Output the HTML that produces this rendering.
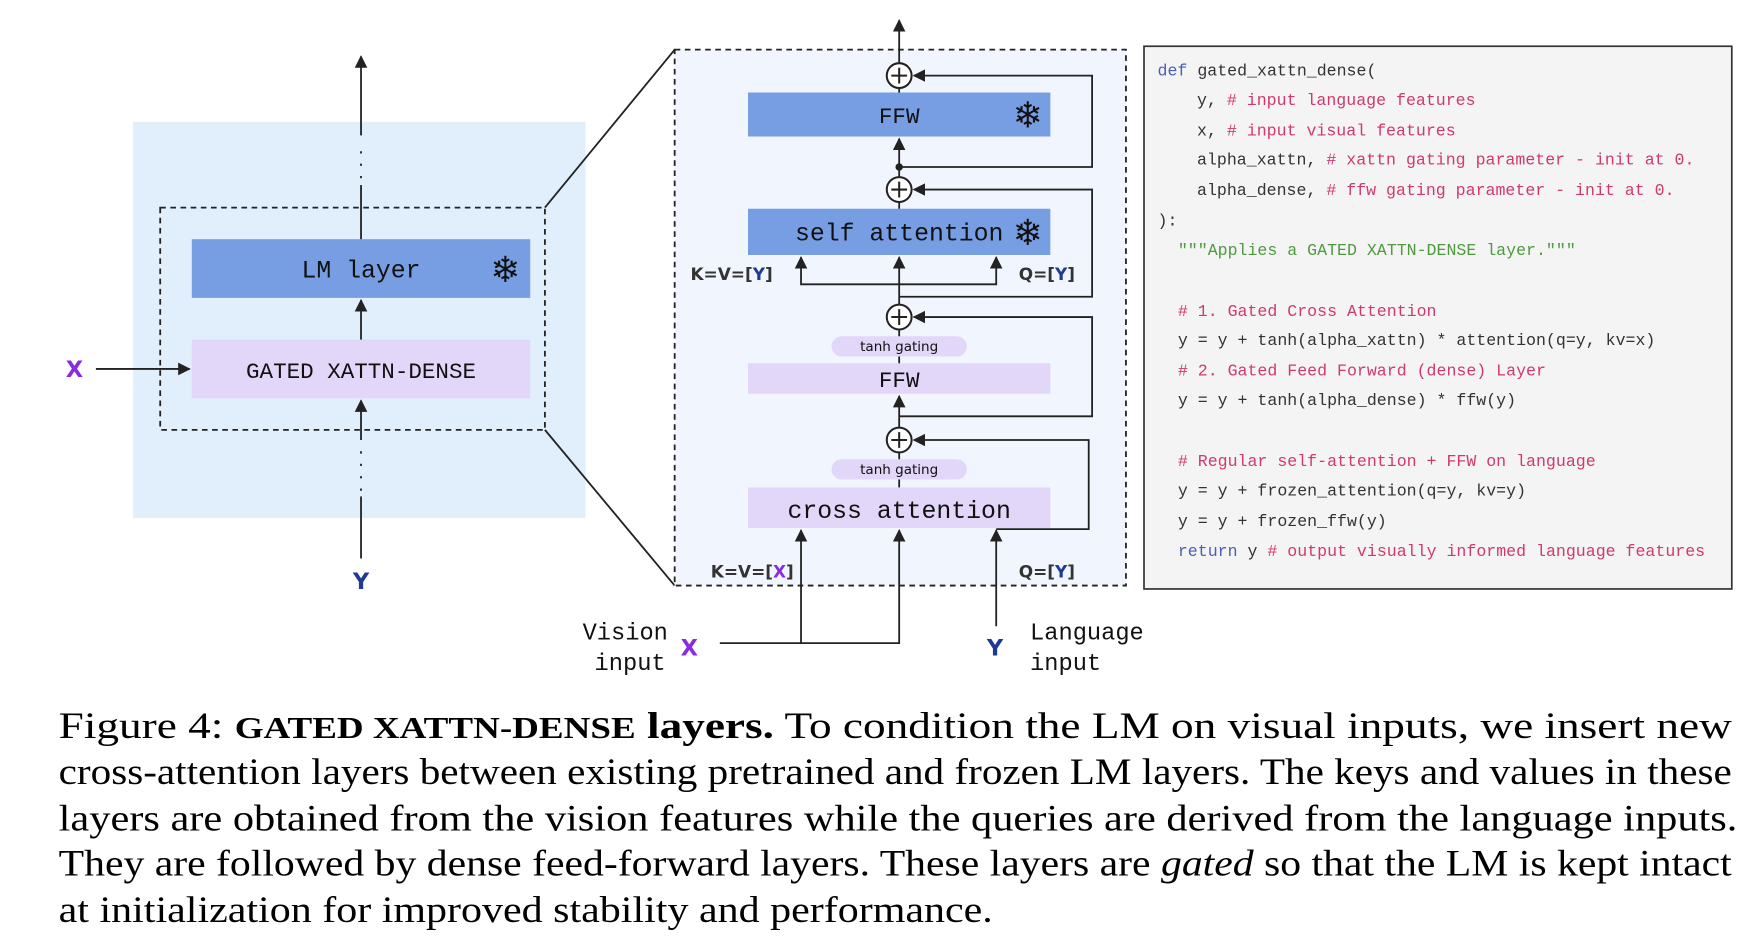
<!DOCTYPE html>
<html><head><meta charset="utf-8"><style>
html,body{margin:0;padding:0;background:#fff;width:1760px;height:950px;overflow:hidden}
svg{display:block}
.m{font-family:"Liberation Mono","DejaVu Sans Mono",monospace}
.s{font-family:"DejaVu Sans","Liberation Sans",sans-serif}
.c{font-family:"Liberation Mono",monospace;font-size:14.7px;fill:#333}
.r{fill:#d03a6a}.g{fill:#4e9a3e}.b{fill:#4a5fb5}
.cap{font-family:"Liberation Serif",serif;font-size:33px;fill:#000}
</style></head><body>
<svg width="1760" height="950" viewBox="0 0 1560 842" preserveAspectRatio="none" xmlns="http://www.w3.org/2000/svg">
<defs><marker id="a" viewBox="0 0 10 10" refX="9" refY="5" markerWidth="7" markerHeight="7" orient="auto-start-reverse"><path d="M0,0L10,5L0,10z" fill="#222"/></marker></defs>
<g stroke="#222" stroke-width="1.6" fill="none">
<rect x="118" y="108" width="401" height="351" fill="#e1eefc" stroke="none"/>
<rect x="142" y="184" width="341" height="197" stroke-dasharray="5,4"/>
<line x1="483" y1="184" x2="598" y2="44"/><line x1="483" y1="381" x2="598" y2="519"/>
<rect x="170" y="212" width="300" height="52" fill="#779de3" stroke="none"/>
<rect x="170" y="301" width="300" height="52" fill="#e3d7f9" stroke="none"/>
<line x1="320" y1="212" x2="320" y2="164"/><line x1="320" y1="158" x2="320" y2="128" stroke-dasharray="2,9"/><line x1="320" y1="120" x2="320" y2="50" marker-end="url(#a)"/>
<line x1="320" y1="301" x2="320" y2="266" marker-end="url(#a)"/>
<line x1="320" y1="495" x2="320" y2="440"/><line x1="320" y1="435" x2="320" y2="395" stroke-dasharray="2,9"/><line x1="320" y1="390" x2="320" y2="355" marker-end="url(#a)"/>
<line x1="85" y1="327" x2="168" y2="327" marker-end="url(#a)"/>
<rect x="598" y="44" width="400" height="475" fill="#f1f6fe" stroke-dasharray="5,4"/>
<rect x="663" y="82" width="268" height="39" fill="#779de3" stroke="none"/>
<rect x="663" y="185" width="268" height="41" fill="#779de3" stroke="none"/>
<rect x="663" y="322" width="268" height="27" fill="#e3d7f9" stroke="none"/>
<rect x="663" y="432" width="268" height="36" fill="#e3d7f9" stroke="none"/>
<line x1="797" y1="56" x2="797" y2="18" marker-end="url(#a)"/>
<line x1="797" y1="82" x2="797" y2="78"/>
<line x1="797" y1="157" x2="797" y2="123" marker-end="url(#a)"/>
<line x1="797" y1="185" x2="797" y2="179"/>
<line x1="797" y1="270" x2="797" y2="228" marker-end="url(#a)"/>
<polyline points="710,228 710,252 883,252 883,228" marker-start="url(#a)" marker-end="url(#a)"/>
<line x1="797" y1="292" x2="797" y2="322"/>
<line x1="797" y1="379" x2="797" y2="351" marker-end="url(#a)"/>
<line x1="797" y1="401" x2="797" y2="432"/>
<rect x="737" y="298" width="120" height="18" rx="9" fill="#e3d7f9" stroke="none"/>
<rect x="737" y="407" width="120" height="18" rx="9" fill="#e3d7f9" stroke="none"/>
<polyline points="797,148 968,148 968,67 810,67" marker-end="url(#a)"/>
<polyline points="797,263 968,263 968,168 810,168" marker-end="url(#a)"/>
<polyline points="797,369 968,369 968,281 810,281" marker-end="url(#a)"/>
<polyline points="883,469 965,469 965,390 810,390" marker-end="url(#a)"/>
<polyline points="638,570 797,570 797,470" marker-end="url(#a)"/>
<line x1="710" y1="570" x2="710" y2="470" marker-end="url(#a)"/>
<line x1="883" y1="555" x2="883" y2="470" marker-end="url(#a)"/>
<g fill="#fff" stroke-width="1.8">
<circle cx="797" cy="67" r="11"/><circle cx="797" cy="168" r="11"/><circle cx="797" cy="281" r="11"/><circle cx="797" cy="390" r="11"/></g>
<path d="M790,67h14M797,60v14M790,168h14M797,161v14M790,281h14M797,274v14M790,390h14M797,383v14" stroke-width="1.8"/>
<circle cx="797" cy="148" r="2.5" fill="#222"/>
<rect x="1014" y="41" width="521" height="481" fill="#f4f4f4" stroke="#333" stroke-width="1.5"/>
</g>
<g class="m" fill="#111" text-anchor="middle">
<text x="320" y="246" font-size="22">LM layer</text>
<text x="320" y="335" font-size="20">GATED XATTN-DENSE</text>
<text x="797" y="109" font-size="20">FFW</text>
<text x="797" y="213" font-size="22">self attention</text>
<text x="797" y="343" font-size="20">FFW</text>
<text x="797" y="459" font-size="22">cross attention</text>
</g>
<g class="s" fill="#111" font-size="32" text-anchor="middle">
<text x="448" y="250">❄</text><text x="911" y="113">❄</text><text x="911" y="217">❄</text>
</g>
<g class="s" font-size="12" fill="#111" text-anchor="middle"><text x="797" y="311">tanh gating</text><text x="797" y="420">tanh gating</text></g>
<g class="s" font-weight="bold" font-size="20" text-anchor="middle">
<text x="66" y="334" fill="#8a2be2">X</text><text x="320" y="522" fill="#1f3a93">Y</text>
<text x="611" y="581" fill="#8a2be2">X</text><text x="882" y="581" fill="#1f3a93">Y</text>
</g>
<g class="s" font-weight="bold" font-size="15" fill="#333">
<text x="612" y="248">K=V=[<tspan fill="#1f3a93">Y</tspan>]</text>
<text x="903" y="248">Q=[<tspan fill="#1f3a93">Y</tspan>]</text>
<text x="630" y="512">K=V=[<tspan fill="#8a2be2">X</tspan>]</text>
<text x="903" y="512">Q=[<tspan fill="#1f3a93">Y</tspan>]</text>
</g>
<g class="m" font-size="21" fill="#111">
<text x="592" y="567" text-anchor="end">Vision</text><text x="590" y="594" text-anchor="end">input</text>
<text x="913" y="567">Language</text><text x="913" y="594">input</text>
</g>
<g class="c">
<text x="1026" y="67"><tspan class="b">def</tspan> gated_xattn_dense(</text>
<text x="1061" y="93">y,  <tspan class="r"># input language features</tspan></text>
<text x="1061" y="120">x,  <tspan class="r"># input visual features</tspan></text>
<text x="1061" y="146">alpha_xattn, <tspan class="r"># xattn gating parameter - init at 0.</tspan></text>
<text x="1061" y="173">alpha_dense, <tspan class="r"># ffw gating parameter - init at 0.</tspan></text>
<text x="1026" y="200">):</text>
<text x="1044" y="226" class="g">"""Applies a GATED XATTN-DENSE layer."""</text>
<text x="1044" y="280" class="r"># 1. Gated Cross Attention</text>
<text x="1044" y="306">y = y + tanh(alpha_xattn) * attention(q=y, kv=x)</text>
<text x="1044" y="333" class="r"># 2. Gated Feed Forward (dense) Layer</text>
<text x="1044" y="359">y = y + tanh(alpha_dense) * ffw(y)</text>
<text x="1044" y="413" class="r"># Regular self-attention + FFW on language</text>
<text x="1044" y="439">y = y + frozen_attention(q=y, kv=y)</text>
<text x="1044" y="466">y = y + frozen_ffw(y)</text>
<text x="1044" y="493"><tspan class="b">return</tspan> y  <tspan class="r"># output visually informed language features</tspan></text>
</g>
<g class="cap">
<text x="52" y="654" textLength="1483" lengthAdjust="spacingAndGlyphs">Figure 4:   <tspan font-weight="bold" font-size="27">GATED XATTN-DENSE</tspan> <tspan font-weight="bold">layers.</tspan> To condition the LM on visual inputs, we insert new</text>
<text x="52" y="695" textLength="1483" lengthAdjust="spacingAndGlyphs">cross-attention layers between existing pretrained and frozen LM layers. The keys and values in these</text>
<text x="52" y="736" textLength="1488" lengthAdjust="spacingAndGlyphs">layers are obtained from the vision features while the queries are derived from the language inputs.</text>
<text x="52" y="776" textLength="1483" lengthAdjust="spacingAndGlyphs">They are followed by dense feed-forward layers. These layers are <tspan font-style="italic">gated</tspan> so that the LM is kept intact</text>
<text x="52" y="817" textLength="828" lengthAdjust="spacingAndGlyphs">at initialization for improved stability and performance.</text>
</g>
</svg>
</body></html>
